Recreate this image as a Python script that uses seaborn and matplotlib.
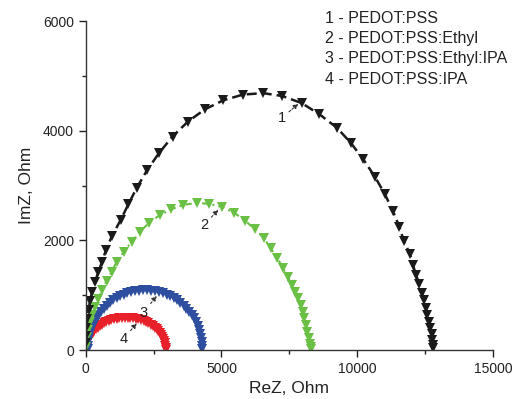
"""Nyquist plots of PEDOT:PSS films."""
import matplotlib
matplotlib.use("Agg")
import matplotlib.pyplot as plt
import seaborn as sns
from matplotlib.ticker import MultipleLocator

# values (Ohm)
re_1 = [11, 11, 29, 59, 103, 158, 232, 342, 464, 600, 747, 968, 1289, 1569, 1878,
        2257, 2698, 3196, 3767, 4393, 5066, 5792, 6528, 7246, 7953, 8608, 9253,
        9768, 10221, 10652, 11020, 11304, 11547, 11720, 11941, 12051, 12162,
        12283, 12372, 12467, 12530, 12585, 12640, 12696, 12740, 12769, 12788, 12799]
im_1 = [128, 256, 402, 566, 730, 895, 1059, 1242, 1424, 1607, 1826, 2081, 2374,
        2657, 2958, 3278, 3592, 3895, 4169, 4392, 4556, 4660, 4687, 4633, 4505,
        4300, 4054, 3775, 3479, 3159, 2840, 2544, 2252, 1981, 1753, 1552, 1370,
        1205, 1041, 913, 767, 639, 517, 402, 292, 183, 91, 37]

re_2 = [5, 11, 48, 96, 158, 243, 342, 464, 600, 766, 957, 1141, 1410, 1694, 2000,
        2342, 2736, 3159, 3594, 4087, 4551, 5008, 5460, 5865, 6234, 6565, 6812,
        7062, 7264, 7441, 7585, 7706, 7828, 7916, 7990, 8049, 8111, 8159, 8211,
        8259, 8280, 8290]
im_2 = [55, 128, 237, 365, 502, 639, 785, 931, 1096, 1260, 1430, 1612, 1795, 1978,
        2160, 2324, 2465, 2569, 2648, 2684, 2666, 2611, 2507, 2361, 2204, 2040,
        1857, 1674, 1492, 1333, 1187, 1065, 944, 822, 699, 579, 457, 334, 214,
        110, 60, 20]

re_3 = [80, 85, 100, 126, 162, 207, 263, 327, 401, 483, 574, 672, 778, 891, 1010,
        1135, 1265, 1400, 1538, 1680, 1824, 1970, 2116, 2264, 2410, 2556, 2700,
        2842, 2980, 3115, 3245, 3370, 3489, 3602, 3708, 3806, 3897, 3979, 4053,
        4117, 4173, 4218, 4254, 4280, 4295, 4300]
im_3 = [10, 76, 152, 227, 300, 373, 443, 512, 578, 641, 701, 757, 810, 859, 904,
        944, 980, 1011, 1037, 1058, 1073, 1084, 1089, 1089, 1084, 1073, 1058,
        1037, 1011, 980, 944, 904, 859, 810, 757, 701, 641, 578, 512, 443, 373,
        300, 227, 152, 76, 10]

re_4 = [30, 34, 44, 62, 86, 118, 156, 201, 252, 309, 372, 440, 513, 591, 674, 760,
        850, 943, 1039, 1137, 1237, 1337, 1439, 1541, 1643, 1743, 1843, 1941,
        2037, 2130, 2220, 2306, 2389, 2467, 2540, 2608, 2671, 2728, 2779, 2824,
        2862, 2894, 2918, 2936, 2946, 2950]
im_4 = [5, 41, 82, 123, 163, 202, 240, 277, 313, 347, 379, 410, 438, 465, 489, 511,
        530, 547, 561, 572, 581, 587, 590, 590, 587, 581, 572, 561, 547, 530,
        511, 489, 465, 438, 410, 379, 347, 313, 277, 240, 202, 163, 123, 82, 41, 5]

legend_lines = ["1 - PEDOT:PSS", "2 - PEDOT:PSS:Ethyl",
                "3 - PEDOT:PSS:Ethyl:IPA", "4 - PEDOT:PSS:IPA"]

sns.set_style("ticks")
plt.rcParams["font.family"] = ["Liberation Sans", "DejaVu Sans"]

fig = plt.figure(figsize=(5.12, 3.99), dpi=100)
ax = fig.add_axes([0.1674, 0.1228, 0.7956, 0.8242])

sns.lineplot(x=re_4, y=im_4, sort=False, estimator=None, ax=ax, color="#e8202a",
             marker="v", markersize=7.5, markeredgewidth=0, linewidth=1.5)
sns.lineplot(x=re_3, y=im_3, sort=False, estimator=None, ax=ax, color="#2e4fa0",
             marker="v", markersize=7, markeredgewidth=0, linewidth=1.2)
sns.lineplot(x=re_2, y=im_2, sort=False, estimator=None, ax=ax, color="#6abf45",
             marker="v", markersize=7, markeredgewidth=0, linewidth=1.5,
             linestyle=(0, (3, 2, 1, 2)))
sns.lineplot(x=re_1, y=im_1, sort=False, estimator=None, ax=ax, color="#1a1a1a",
             marker="v", markersize=7, markeredgewidth=0, linewidth=1.8,
             linestyle=(0, (4, 2)))

ax.set_xlim(0, 15000)
ax.set_ylim(0, 6000)
ax.xaxis.set_major_locator(MultipleLocator(5000))
ax.xaxis.set_minor_locator(MultipleLocator(2500))
ax.yaxis.set_major_locator(MultipleLocator(2000))
ax.yaxis.set_minor_locator(MultipleLocator(1000))
ax.tick_params(which="major", length=5, width=1, labelsize=10, colors="#222222")
ax.tick_params(which="minor", length=3, width=1, color="#222222")
for s in ("left", "bottom"):
    ax.spines[s].set_color("#333333")
    ax.spines[s].set_linewidth(1)
sns.despine(ax=ax)

ax.set_xlabel("ReZ, Ohm", fontsize=12.5, color="#222222", labelpad=4)
ax.set_ylabel("ImZ, Ohm", fontsize=12.5, color="#222222", labelpad=6)

# curve numbers with arrows
arrow = dict(arrowstyle="-|>", color="#333333", lw=0.8, linestyle=(0, (2, 1.5)),
             mutation_scale=7, shrinkA=0, shrinkB=0)
for lab, txt_xy, tip_xy in [("1", (7217, 4231), (7828, 4492)),
                            ("2", (4356, 2283), (4882, 2556)),
                            ("3", (2121, 681), (2614, 986)),
                            ("4", (1384, 195), (1878, 488))]:
    ax.annotate(lab, xy=tip_xy, xytext=txt_xy, fontsize=10.5, color="#222222",
                ha="center", va="center", arrowprops=arrow)

for i, line in enumerate(legend_lines):
    fig.text(325 / 512, 1 - (18.5 + 20.2 * i) / 399, line, fontsize=11.5,
             color="#222222", ha="left", va="center")

fig.savefig("out.png", dpi=100)
